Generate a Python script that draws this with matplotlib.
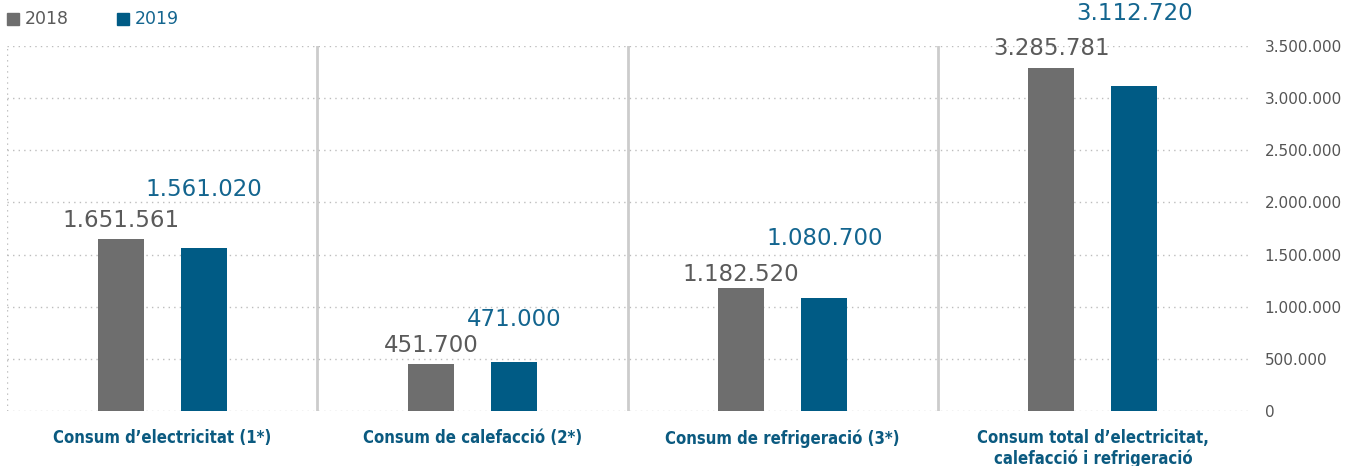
import numpy as np
import matplotlib.pyplot as plt
from matplotlib.patches import Rectangle

categories = ["Consum d\u2019electricitat (1*)",
              "Consum de calefacci\u00f3 (2*)",
              "Consum de refrigeraci\u00f3 (3*)",
              "Consum total d\u2019electricitat,\ncalefacci\u00f3 i refrigeraci\u00f3"]
v_2018 = [1651561, 451700, 1182520, 3285781]
v_2019 = [1561020, 471000, 1080700, 3112720]
years = ["2018", "2019"]
y_ticks = [0, 500000, 1000000, 1500000, 2000000, 2500000, 3000000, 3500000]

# label gap above each bar, in pixels
gap_2018 = [12, 12, 7, 13]
gap_2019 = [52, 36, 53, 66]

c_gray = "#6e6e6e"
c_blue = "#005b85"
c_lbl_gray = "#5a5a5a"
c_lbl_blue = "#13658f"
c_cat = "#0b5a80"


def fmt(v):
    return f"{v:,}".replace(",", ".")


fig = plt.figure(figsize=(13.52, 4.66), dpi=100)
ax = fig.add_axes([7/1352, 1-411/466, 1241/1352, (411-46)/466])

x = np.arange(len(categories))
w = 0.148
off = 0.134
ax.bar(x - off, v_2018, w, color=c_gray, zorder=3)
ax.bar(x + off, v_2019, w, color=c_blue, zorder=3)

ax.set_xlim(-0.5, len(categories) - 0.5)
ax.set_ylim(0, 3500000)
ax.set_yticks(y_ticks)
ax.set_yticklabels([fmt(t) for t in y_ticks])
ax.yaxis.tick_right()
ax.tick_params(axis='y', length=0, pad=12, labelsize=11, labelcolor="#555555")
ax.set_xticks([])
for s in ax.spines.values():
    s.set_visible(False)

ax.grid(axis='y', color="#bdbdbd", linestyle=(0, (1, 3)), linewidth=1, zorder=0)
ax.axvline(-0.5, color="#bdbdbd", linestyle=(0, (1, 3)), linewidth=1, zorder=0)
for sep in x[:-1] + 0.5:
    ax.axvline(sep, color="#cccccc", linewidth=2, zorder=1)

# value labels
for xi, a, b, ga, gb in zip(x, v_2018, v_2019, gap_2018, gap_2019):
    ax.annotate(fmt(a), (xi - off, a), xytext=(0, ga), textcoords='offset pixels',
                ha='center', va='baseline', fontsize=16.5, color=c_lbl_gray,
                annotation_clip=False)
    ax.annotate(fmt(b), (xi + off, b), xytext=(0, gb), textcoords='offset pixels',
                ha='center', va='baseline', fontsize=16.5, color=c_lbl_blue,
                annotation_clip=False)

# category labels
for xi, cat in zip(x, categories):
    ax.annotate(cat, (xi, 0), xytext=(0, -18), textcoords='offset pixels',
                ha='center', va='top', fontsize=12, fontweight='bold', color=c_cat,
                fontstretch='condensed', linespacing=1.2, annotation_clip=False)

# legend
for xl, yr, col, tc in [(7, years[0], c_gray, c_lbl_gray), (117, years[1], c_blue, c_lbl_blue)]:
    fig.patches.append(Rectangle((xl/1352, 1-25/466), 12/1352, 12/466,
                                 transform=fig.transFigure, color=col))
    fig.text((xl+18)/1352, 1-19/466, yr, ha='left', va='center', fontsize=12.5, color=tc)

fig.savefig("out.png", dpi=100)
